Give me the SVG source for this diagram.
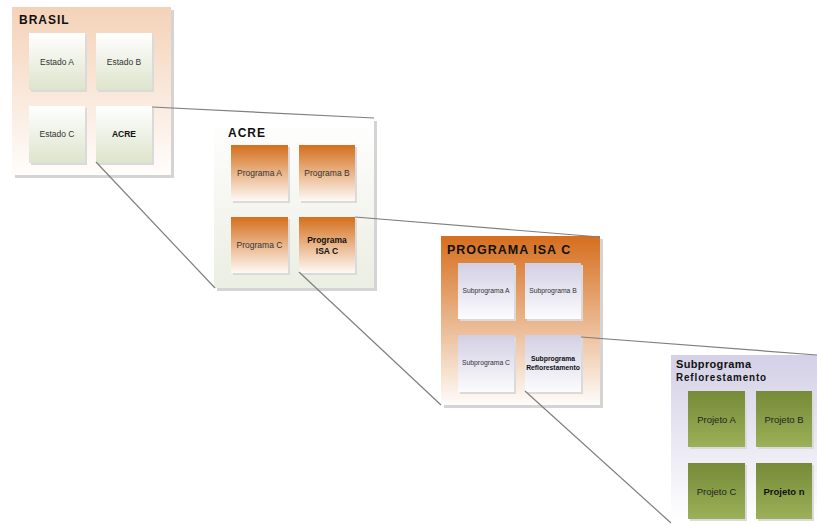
<svg xmlns="http://www.w3.org/2000/svg" width="817" height="525" viewBox="0 0 817 525">
<defs>
<linearGradient id="gBrasil" x1="0" y1="0" x2="0" y2="1"><stop offset="0" stop-color="#f4d2b8"/><stop offset="1" stop-color="#fffdfb"/></linearGradient>
<linearGradient id="gGreen" x1="0" y1="0" x2="0" y2="1"><stop offset="0" stop-color="#ffffff"/><stop offset="1" stop-color="#dde4cc"/></linearGradient>
<linearGradient id="gAcre" x1="0" y1="0" x2="0" y2="1"><stop offset="0" stop-color="#ffffff"/><stop offset="1" stop-color="#ebeee2"/></linearGradient>
<linearGradient id="gOrange" x1="0" y1="0" x2="0" y2="1"><stop offset="0" stop-color="#d56f1c"/><stop offset="1" stop-color="#fefaf6"/></linearGradient>
<linearGradient id="gIsa" x1="0" y1="0" x2="0" y2="1"><stop offset="0" stop-color="#d66e1d"/><stop offset="1" stop-color="#fefcfa"/></linearGradient>
<linearGradient id="gLav" x1="0" y1="0" x2="0" y2="1"><stop offset="0" stop-color="#d2cfe4"/><stop offset="1" stop-color="#fcfcfe"/></linearGradient>
<linearGradient id="gReflo" x1="0" y1="0" x2="0" y2="1"><stop offset="0" stop-color="#d4d0e6"/><stop offset="1" stop-color="#ffffff"/></linearGradient>
<linearGradient id="gOlive" x1="0" y1="0" x2="0" y2="1"><stop offset="0" stop-color="#768a38"/><stop offset="1" stop-color="#9bb058"/></linearGradient>
</defs>
<style>
.sh{fill:#d4d4d4}
.bsh{fill:#dadada}
.t{font-family:"Liberation Sans",Arial,sans-serif;fill:#333;text-anchor:middle}
.title{font-family:"Liberation Sans",Arial,sans-serif;font-weight:bold;fill:#111;letter-spacing:1px}
.b{font-weight:bold;fill:#111}
.conn{stroke:#7f7f7f;stroke-width:1.2;fill:none}
</style>

<g id="brasil">
<rect class="sh" x="15" y="10" width="159" height="168"/>
<rect x="12" y="7" width="159" height="168" fill="url(#gBrasil)"/>
<text class="title" x="19" y="24" font-size="12">BRASIL</text>
</g>
<g id="estado-a"><rect class="bsh" x="31" y="35" width="56" height="57"/><rect x="29" y="33" width="56" height="57" fill="url(#gGreen)"/><text class="t" x="57" y="65" font-size="8.5">Estado A</text></g>
<g id="estado-b"><rect class="bsh" x="98" y="35" width="56" height="57"/><rect x="96" y="33" width="56" height="57" fill="url(#gGreen)"/><text class="t" x="124" y="65" font-size="8.5">Estado B</text></g>
<g id="estado-c"><rect class="bsh" x="31" y="108" width="56" height="57"/><rect x="29" y="106" width="56" height="57" fill="url(#gGreen)"/><text class="t" x="57" y="137" font-size="8.5">Estado C</text></g>
<g id="acre-box"><rect class="bsh" x="98" y="108" width="56" height="57"/><rect x="96" y="106" width="56" height="57" fill="url(#gGreen)"/><text class="t b" x="124" y="137" font-size="8.5">ACRE</text></g>

<g id="acre">
<rect class="sh" x="217" y="121" width="160" height="170"/>
<rect x="214" y="118" width="160" height="170" fill="url(#gAcre)"/>
<text class="title" x="228" y="137" font-size="12">ACRE</text>
</g>
<g id="programa-a"><rect class="bsh" x="233" y="147" width="57" height="56"/><rect x="231" y="145" width="57" height="56" fill="url(#gOrange)"/><text class="t" x="259.5" y="176" font-size="8.5">Programa A</text></g>
<g id="programa-b"><rect class="bsh" x="301" y="147" width="56" height="56"/><rect x="299" y="145" width="56" height="56" fill="url(#gOrange)"/><text class="t" x="327" y="176" font-size="8.5">Programa B</text></g>
<g id="programa-c"><rect class="bsh" x="233" y="219" width="57" height="56"/><rect x="231" y="217" width="57" height="56" fill="url(#gOrange)"/><text class="t" x="259.5" y="248" font-size="8.5">Programa C</text></g>
<g id="programa-isa-c-box"><rect class="bsh" x="301" y="219" width="56" height="56"/><rect x="299" y="217" width="56" height="56" fill="url(#gOrange)"/><text class="t b" x="327" y="243" font-size="8.5">Programa</text><text class="t b" x="327" y="254" font-size="8.5">ISA C</text></g>

<g id="programa-isa-c">
<rect class="sh" x="444" y="239" width="159" height="169"/>
<rect x="441" y="236" width="159" height="169" fill="url(#gIsa)"/>
<text class="title" x="447" y="254" font-size="12.5">PROGRAMA ISA C</text>
</g>
<g id="subprograma-a"><rect class="bsh" x="460" y="265" width="56" height="56"/><rect x="458" y="263" width="56" height="56" fill="url(#gLav)"/><text class="t" x="486" y="293" font-size="6.8">Subprograma A</text></g>
<g id="subprograma-b"><rect class="bsh" x="527" y="265" width="56" height="56"/><rect x="525" y="263" width="56" height="56" fill="url(#gLav)"/><text class="t" x="553" y="293" font-size="6.8">Subprograma B</text></g>
<g id="subprograma-c"><rect class="bsh" x="460" y="337" width="56" height="57"/><rect x="458" y="335" width="56" height="57" fill="url(#gLav)"/><text class="t" x="486" y="365" font-size="6.8">Subprograma C</text></g>
<g id="subprograma-reflo-box"><rect class="bsh" x="527" y="337" width="56" height="57"/><rect x="525" y="335" width="56" height="57" fill="url(#gLav)"/><text class="t b" x="553" y="361" font-size="6.8">Subprograma</text><text class="t b" x="553" y="370" font-size="6.8">Reflorestamento</text></g>

<g id="subprograma-reflorestamento">
<rect x="671" y="355" width="160" height="168" fill="url(#gReflo)"/>
<text class="title" x="676" y="368" font-size="11" letter-spacing="0" textLength="76" lengthAdjust="spacing">Subprograma</text>
<text class="title" x="676" y="381" font-size="11" letter-spacing="0" textLength="91" lengthAdjust="spacingAndGlyphs">Reflorestamento</text>
</g>
<g id="projeto-a"><rect class="bsh" x="690" y="393" width="57" height="56"/><rect x="688" y="391" width="57" height="56" fill="url(#gOlive)"/><text class="t" x="716.5" y="423" font-size="9.5" style="fill:#222">Projeto A</text></g>
<g id="projeto-b"><rect class="bsh" x="758" y="393" width="56" height="56"/><rect x="756" y="391" width="56" height="56" fill="url(#gOlive)"/><text class="t" x="784" y="423" font-size="9.5" style="fill:#222">Projeto B</text></g>
<g id="projeto-c"><rect class="bsh" x="690" y="465" width="57" height="56"/><rect x="688" y="463" width="57" height="56" fill="url(#gOlive)"/><text class="t" x="716.5" y="495" font-size="9.5" style="fill:#222">Projeto C</text></g>
<g id="projeto-n"><rect class="bsh" x="758" y="465" width="56" height="56"/><rect x="756" y="463" width="56" height="56" fill="url(#gOlive)"/><text class="t b" x="784" y="495" font-size="9.5">Projeto n</text></g>

<g id="connectors">
<line class="conn" x1="152" y1="107" x2="374" y2="118"/>
<line class="conn" x1="96" y1="162" x2="215" y2="288"/>
<line class="conn" x1="355" y1="217" x2="600" y2="237"/>
<line class="conn" x1="299" y1="272" x2="441" y2="405"/>
<line class="conn" x1="581" y1="337" x2="817" y2="355"/>
<line class="conn" x1="525" y1="391" x2="671" y2="523"/>
</g>
</svg>
